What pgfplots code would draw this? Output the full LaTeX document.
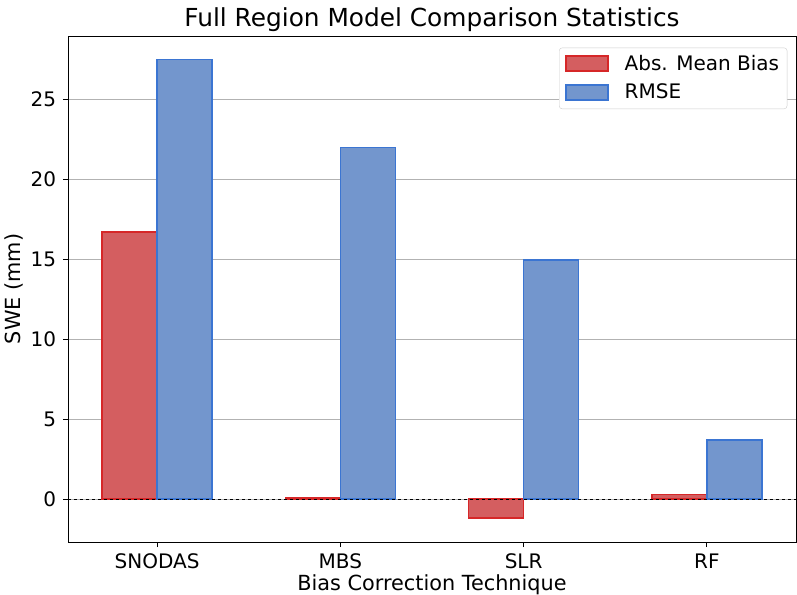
\documentclass[border=0pt]{standalone}
\usepackage{pgfplots}
\pgfplotsset{compat=1.18}
\usepackage{fontspec}
\setmainfont{DejaVu Sans}
\definecolor{rfill}{RGB}{212,94,96}
\definecolor{redge}{RGB}{214,39,40}
\definecolor{bfill}{RGB}{115,150,205}
\definecolor{bedge}{RGB}{59,117,210}
\begin{document}
\fontsize{20}{24}\selectfont
\begin{tikzpicture}
\begin{axis}[
  scale only axis,
  width=728pt, height=506pt,
  xmin=-0.486, xmax=3.486,
  ymin=-2.69, ymax=28.94,
  xtick={0,1,2,3},
  xticklabels={SNODAS,MBS,SLR,RF},
  ytick={0,5,10,15,20,25},
  /pgf/number format/assume math mode=true,
  tick label style={font=\fontsize{20}{24}\selectfont},
  label style={font=\fontsize{20.8}{24}\selectfont},
  title style={font=\fontsize{24.8}{28}\selectfont, yshift=-9pt},
  title={Full Region Model Comparison Statistics},
  xlabel={Bias Correction Technique},
  ylabel={SWE (mm)},
  xlabel style={yshift=8pt},
  ylabel style={yshift=-6pt},
  ymajorgrids,
  grid style={color=black!30, line width=0.8pt},
  axis line style={black, line width=0.9pt},
  tick align=outside,
  major tick length=5pt,
  tick style={black, line width=0.9pt},
  xtick pos=bottom, ytick pos=left,
  bar width=0.3,
  legend style={at={(0.988,0.977)}, anchor=north east, draw=black!20, rounded corners=3pt, font=\fontsize{20}{24}\selectfont, row sep=7pt, inner xsep=6pt, inner ysep=5pt,
    /tikz/every odd column/.append style={column sep=14pt}},
  legend cell align=left,
  legend image code/.code={\draw[#1, sharp corners] (0pt,-7pt) rectangle (42pt,8pt);},
]
\addplot[ybar, bar shift=-0.15, fill=rfill, draw=redge, line width=1.4pt] coordinates {(0,16.69) (1,0.05) (2,-1.2) (3,0.28)};
\addlegendentry{Abs. Mean Bias}
\addplot[ybar, bar shift=0.15, fill=bfill, draw=bedge, line width=1.4pt] coordinates {(0,27.48) (1,21.98) (2,14.94) (3,3.69)};
\addlegendentry{RMSE}
\addplot[black, dashed, line width=0.8pt, forget plot] coordinates {(-0.486,0) (3.486,0)};
\end{axis}
\pgfresetboundingbox
\path (current axis.south west) ++(-68pt,-52pt) coordinate (bl);
\path (current axis.north east) ++(1pt,36pt) coordinate (tr);
\path (bl) rectangle (tr);
\end{tikzpicture}
\end{document}
